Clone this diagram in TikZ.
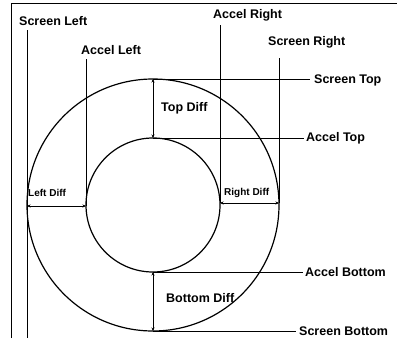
\documentclass[tikz,border=0pt]{standalone}
\usepackage{fontspec}
\setmainfont{Liberation Sans}
\usetikzlibrary{arrows.meta}
\begin{document}
\begin{tikzpicture}[x=1pt,y=-1pt,
  lbl/.style={font=\bfseries\fontsize{12.5}{13}\selectfont, inner sep=0pt, anchor=west},
  small/.style={font=\bfseries\fontsize{10}{11}\selectfont, inner sep=0pt, anchor=west},
  guide/.style={line width=1pt},
  diff/.style={line width=1pt, {Stealth[length=3.5pt,width=3pt]}-{Stealth[length=3.5pt,width=3pt]}}]
\useasboundingbox (0,0) rectangle (397,338);
\draw[line width=0.8pt] (11,338) -- (11,3) -- (397,3);
\coordinate (c) at (153,205);
\draw[line width=1.2pt] (c) circle (126);
\draw[line width=1.2pt] (c) circle (67);
\node[lbl] (sleft) at (19,21) {Screen Left};
\node[lbl] (aleft) at (81,50) {Accel Left};
\node[lbl] (aright) at (213,15) {Accel Right};
\node[lbl] (sright) at (268,42) {Screen Right};
\node[lbl] (stop) at (314,80) {Screen Top};
\node[lbl] (atop) at (306,138) {Accel Top};
\node[lbl] (abot) at (305,272) {Accel Bottom};
\node[lbl] (sbot) at (299,331) {Screen Bottom};
\node[lbl] (tdiff) at (161,108) {Top Diff};
\node[lbl] (bdiff) at (166,298) {Bottom Diff};
\node[small] (ldiff) at (28,193) {Left Diff};
\node[small] (rdiff) at (224,193) {Right Diff};
\coordinate (sl1) at (27,30);   \coordinate (sl2) at (27,338);
\coordinate (al1) at (86,59);   \coordinate (al2) at (86,206);
\coordinate (ar1) at (220,25);  \coordinate (ar2) at (220,203);
\coordinate (sr1) at (279,58);  \coordinate (sr2) at (279,203);
\coordinate (st1) at (153,79);  \coordinate (st2) at (310,79);
\coordinate (at1) at (153,138); \coordinate (at2) at (304,138);
\coordinate (ab1) at (153,272); \coordinate (ab2) at (303,272);
\coordinate (sb1) at (153,331); \coordinate (sb2) at (296,331);
\draw[guide] (sl1) -- (sl2);
\draw[guide] (al1) -- (al2);
\draw[guide] (ar1) -- (ar2);
\draw[guide] (sr1) -- (sr2);
\draw[guide] (st1) -- (st2);
\draw[guide] (at1) -- (at2);
\draw[guide] (ab1) -- (ab2);
\draw[guide] (sb1) -- (sb2);
\draw[diff] (st1) -- (at1);
\draw[diff] (ab1) -- (sb1);
\draw[diff] (sl1 |- al2) -- (al2);
\draw[diff] (ar2) -- (sr2);
\end{tikzpicture}
\end{document}
